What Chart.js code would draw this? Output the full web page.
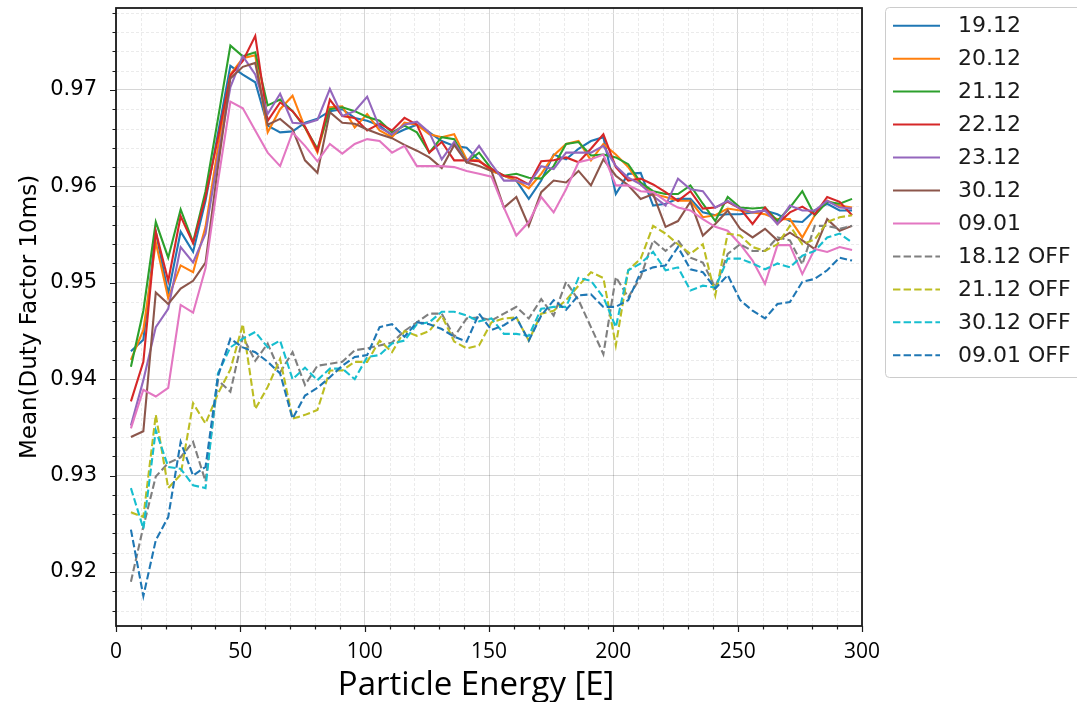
<!DOCTYPE html>
<html><head><meta charset="utf-8">
<script src="https://cdn.jsdelivr.net/npm/chart.js@4.4.0/dist/chart.umd.min.js"></script>
<style>html,body{margin:0;padding:0;background:#fff;overflow:hidden}</style>
</head><body>
<canvas id="c" width="1077" height="702" style="display:block;width:1077px;height:702px"></canvas>
<script>
// ---- data ----
const energies = [6,11,16,21,26,31,36,41,46,51,56,61,66,71,76,81,86,91,96,101,106,111,116,121,126,131,136,141,146,151,156,161,166,171,176,181,186,191,196,201,206,211,216,221,226,231,236,241,246,251,256,261,266,271,276,281,286,291,296];

const on1912 = [0.9429,0.9441,0.9553,0.9489,0.9553,0.9532,0.9585,0.9655,0.9725,0.9716,
 0.9708,0.9663,0.9656,0.9657,0.9666,0.9670,0.9678,0.9680,0.9671,0.9668,
 0.9663,0.9653,0.9659,0.9664,0.9656,0.9647,0.9642,0.9640,0.9627,0.9616,
 0.9611,0.9606,0.9587,0.9606,0.9633,0.9628,0.9639,0.9647,0.9651,0.9592,
 0.9613,0.9614,0.9580,0.9582,0.9587,0.9587,0.9573,0.9570,0.9571,0.9571,
 0.9573,0.9575,0.9571,0.9564,0.9563,0.9575,0.9582,0.9575,0.9575];
const on2012 = [0.9420,0.9451,0.9542,0.9484,0.9518,0.9511,0.9558,0.9640,0.9716,0.9733,
 0.9736,0.9656,0.9680,0.9694,0.9661,0.9635,0.9682,0.9683,0.9661,0.9675,
 0.9658,0.9651,0.9666,0.9664,0.9654,0.9651,0.9654,0.9628,0.9627,0.9616,
 0.9611,0.9606,0.9598,0.9613,0.9632,0.9644,0.9647,0.9627,0.9644,0.9633,
 0.9620,0.9602,0.9592,0.9589,0.9585,0.9585,0.9568,0.9570,0.9577,0.9575,
 0.9573,0.9571,0.9566,0.9566,0.9547,0.9570,0.9585,0.9580,0.9578];
const on2112 = [0.9413,0.9471,0.9563,0.9526,0.9576,0.9542,0.9595,0.9670,0.9746,0.9735,
 0.9739,0.9684,0.9690,0.9678,0.9661,0.9639,0.9680,0.9682,0.9678,0.9672,
 0.9668,0.9656,0.9663,0.9656,0.9635,0.9651,0.9649,0.9625,0.9635,0.9618,
 0.9611,0.9613,0.9609,0.9608,0.9621,0.9644,0.9646,0.9632,0.9633,0.9630,
 0.9623,0.9604,0.9595,0.9592,0.9592,0.9601,0.9582,0.9564,0.9589,0.9578,
 0.9577,0.9578,0.9564,0.9578,0.9595,0.9570,0.9584,0.9582,0.9587];
const on2212 = [0.9377,0.9418,0.9553,0.9502,0.9569,0.9541,0.9589,0.9650,0.9715,0.9730,
 0.9756,0.9668,0.9687,0.9678,0.9662,0.9637,0.9690,0.9673,0.9671,0.9658,
 0.9665,0.9658,0.9671,0.9664,0.9635,0.9646,0.9627,0.9627,0.9626,0.9618,
 0.9611,0.9609,0.9602,0.9626,0.9627,0.9630,0.9625,0.9639,0.9654,0.9620,
 0.9606,0.9608,0.9602,0.9594,0.9585,0.9595,0.9577,0.9578,0.9584,0.9577,
 0.9561,0.9578,0.9561,0.9573,0.9579,0.9571,0.9589,0.9584,0.9570];
const on2312 = [0.9352,0.9399,0.9454,0.9473,0.9537,0.9521,0.9551,0.9630,0.9703,0.9735,
 0.9716,0.9675,0.9696,0.9666,0.9665,0.9669,0.9701,0.9673,0.9678,0.9693,
 0.9661,0.9654,0.9664,0.9667,0.9656,0.9628,0.9646,0.9625,0.9642,0.9623,
 0.9606,0.9606,0.9602,0.9621,0.9618,0.9635,0.9635,0.9635,0.9642,0.9621,
 0.9609,0.9602,0.9590,0.9580,0.9608,0.9597,0.9595,0.9578,0.9585,0.9577,
 0.9573,0.9575,0.9561,0.9580,0.9575,0.9575,0.9585,0.9578,0.9577];
const on3012 = [0.9340,0.9346,0.9490,0.9478,0.9494,0.9502,0.9521,0.9620,0.9712,0.9724,
 0.9728,0.9664,0.9670,0.9659,0.9627,0.9614,0.9677,0.9666,0.9665,0.9659,
 0.9654,0.9650,0.9643,0.9637,0.9630,0.9619,0.9643,0.9625,0.9621,0.9616,
 0.9578,0.9589,0.9559,0.9594,0.9606,0.9604,0.9616,0.9601,0.9628,0.9611,
 0.9601,0.9587,0.9592,0.9558,0.9564,0.9584,0.9549,0.9561,0.9575,0.9556,
 0.9547,0.9556,0.9544,0.9552,0.9544,0.9535,0.9566,0.9554,0.9559];
const on0901 = [0.9349,0.9389,0.9382,0.9391,0.9477,0.9469,0.9515,0.9605,0.9688,0.9681,
 0.9658,0.9635,0.9621,0.9656,0.9642,0.9626,0.9644,0.9634,0.9644,0.9649,
 0.9647,0.9635,0.9642,0.9621,0.9621,0.9621,0.9620,0.9616,0.9613,0.9610,
 0.9578,0.9549,0.9563,0.9589,0.9573,0.9597,0.9625,0.9628,0.9633,0.9601,
 0.9601,0.9595,0.9594,0.9585,0.9578,0.9575,0.9566,0.9558,0.9554,0.9540,
 0.9523,0.9499,0.9539,0.9539,0.9509,0.9535,0.9532,0.9537,0.9534];
const off1812 = [0.9190,0.9247,0.9299,0.9313,0.9319,0.9335,0.9294,0.9399,0.9387,0.9444,
 0.9419,0.9437,0.9407,0.9428,0.9394,0.9414,0.9416,0.9418,0.9430,0.9432,
 0.9435,0.9438,0.9450,0.9459,0.9468,0.9468,0.9444,0.9463,0.9464,0.9461,
 0.9468,0.9475,0.9463,0.9483,0.9466,0.9501,0.9482,0.9454,0.9426,0.9506,
 0.9485,0.9506,0.9544,0.9533,0.9544,0.9526,0.9521,0.9495,0.9530,0.9540,
 0.9533,0.9533,0.9547,0.9544,0.9519,0.9559,0.9559,0.9556,0.9559];
const off2112 = [0.9262,0.9257,0.9363,0.9287,0.9301,0.9375,0.9354,0.9385,0.9410,0.9457,
 0.9369,0.9392,0.9421,0.9359,0.9363,0.9368,0.9409,0.9409,0.9418,0.9418,
 0.9440,0.9428,0.9450,0.9445,0.9450,0.9466,0.9439,0.9432,0.9435,0.9459,
 0.9463,0.9464,0.9440,0.9468,0.9471,0.9482,0.9497,0.9511,0.9505,0.9435,
 0.9513,0.9525,0.9559,0.9551,0.9540,0.9530,0.9540,0.9487,0.9551,0.9549,
 0.9537,0.9533,0.9540,0.9559,0.9540,0.9545,0.9563,0.9568,0.9570];
const off3012 = [0.9287,0.9245,0.9347,0.9309,0.9307,0.9290,0.9287,0.9406,0.9433,0.9442,
 0.9449,0.9433,0.9440,0.9400,0.9412,0.9399,0.9411,0.9411,0.9400,0.9423,
 0.9425,0.9437,0.9440,0.9457,0.9459,0.9470,0.9470,0.9466,0.9460,0.9463,
 0.9447,0.9447,0.9445,0.9473,0.9475,0.9475,0.9505,0.9502,0.9485,0.9454,
 0.9513,0.9520,0.9532,0.9513,0.9516,0.9492,0.9497,0.9495,0.9525,0.9525,
 0.9520,0.9514,0.9520,0.9516,0.9528,0.9533,0.9547,0.9551,0.9542];
const off0901 = [0.9244,0.9175,0.9233,0.9257,0.9335,0.9300,0.9309,0.9403,0.9442,0.9433,
 0.9428,0.9418,0.9406,0.9359,0.9383,0.9391,0.9402,0.9414,0.9423,0.9425,
 0.9454,0.9457,0.9444,0.9459,0.9457,0.9452,0.9444,0.9439,0.9468,0.9451,
 0.9456,0.9464,0.9440,0.9466,0.9482,0.9472,0.9487,0.9488,0.9475,0.9475,
 0.9482,0.9511,0.9516,0.9518,0.9537,0.9514,0.9511,0.9494,0.9508,0.9482,
 0.9471,0.9463,0.9478,0.9480,0.9501,0.9504,0.9513,0.9526,0.9523];

const seriesLabels = ['19.12','20.12','21.12','22.12','23.12','30.12','09.01','18.12 OFF','21.12 OFF','30.12 OFF','09.01 OFF'];
const seriesValues = [on1912,on2012,on2112,on2212,on2312,on3012,on0901,off1812,off2112,off3012,off0901];
const xTickLabels = [0,50,100,150,200,250,300];
const yTickLabels = [0.92,0.93,0.94,0.95,0.96,0.97];

// ---- styles ----
const colors = ['#1f77b4','#ff7f0e','#2ca02c','#d62728','#9467bd','#8c564b','#e377c2','#7f7f7f','#bcbd22','#17becf','#1f77b4'];
const DASH = [7.4,3.2];
const xMinor = []; for (let v = 0; v <= 300; v += 10) if (v % 50) xMinor.push(v);
const yMinor = []; for (let i = 458; i <= 489; i++) if ((i*2) % 10) yMinor.push(i*0.002);

const datasets = seriesLabels.map((lab, i) => ({
  label: lab,
  data: energies.map((e, k) => ({x: e, y: seriesValues[i][k]})),
  borderColor: colors[i],
  backgroundColor: colors[i],
  borderWidth: 2.1,
  borderDash: i >= 7 ? DASH : [],
  pointRadius: 0,
  tension: 0,
  fill: false,
  order: seriesLabels.length - i
}));

const decor = {
  id: 'decor',
  beforeDatasetsDraw(chart) {
    const {ctx, chartArea: a, scales: {x, y}} = chart;
    ctx.save();
    ctx.strokeStyle = '#e6e6e6'; ctx.lineWidth = 0.8; ctx.setLineDash([3, 2]);
    ctx.beginPath();
    for (const v of xMinor) { const p = Math.round(x.getPixelForValue(v)) + 0.5; ctx.moveTo(p, a.top); ctx.lineTo(p, a.bottom); }
    for (const v of yMinor) { const p = Math.round(y.getPixelForValue(v)) + 0.5; ctx.moveTo(a.left, p); ctx.lineTo(a.right, p); }
    ctx.stroke();
    ctx.restore();
  },
  afterDatasetsDraw(chart) {
    const {ctx, chartArea: a, scales: {x, y}} = chart;
    ctx.save();
    ctx.strokeStyle = '#1a1a1a'; ctx.lineWidth = 1.2; ctx.setLineDash([]);
    ctx.beginPath();
    for (const v of xTickLabels) { const p = Math.round(x.getPixelForValue(v)) + 0.5; ctx.moveTo(p, a.bottom); ctx.lineTo(p, a.bottom + 6); }
    for (const v of xMinor) { const p = Math.round(x.getPixelForValue(v)) + 0.5; ctx.moveTo(p, a.bottom); ctx.lineTo(p, a.bottom + 3.5); }
    for (const v of yTickLabels) { const p = Math.round(y.getPixelForValue(v)) + 0.5; ctx.moveTo(a.left, p); ctx.lineTo(a.left - 6, p); }
    for (const v of yMinor) { const p = Math.round(y.getPixelForValue(v)) + 0.5; ctx.moveTo(a.left, p); ctx.lineTo(a.left - 3.5, p); }
    ctx.stroke();
    ctx.lineWidth = 1.8;
    ctx.strokeRect(a.left, a.top, a.right - a.left, a.bottom - a.top);
    ctx.restore();
  },
  afterDraw(chart) {
    const {ctx} = chart;
    ctx.save();
    const bx = 885.5, by = 7.5, bw = 260, bh = 370;
    ctx.fillStyle = 'rgba(255,255,255,0.85)';
    ctx.strokeStyle = '#cccccc'; ctx.lineWidth = 1;
    ctx.beginPath();
    ctx.roundRect(bx, by, bw, bh, 4);
    ctx.fill(); ctx.stroke();
    ctx.font = '22px "DejaVu Sans"';
    ctx.textBaseline = 'middle'; ctx.textAlign = 'left';
    chart.data.datasets.forEach((ds, i) => {
      const yy = 25.7 + 32.96 * i;
      ctx.strokeStyle = ds.borderColor; ctx.lineWidth = 2;
      ctx.setLineDash(ds.borderDash || []);
      ctx.beginPath(); ctx.moveTo(893, yy); ctx.lineTo(940, yy); ctx.stroke();
      ctx.setLineDash([]);
      ctx.fillStyle = '#1a1a1a';
      ctx.fillText(ds.label, 958, yy + 1);
    });
    ctx.restore();
  }
};

new Chart(document.getElementById('c'), {
  type: 'line',
  data: {datasets},
  plugins: [decor],
  options: {
    responsive: false,
    animation: false,
    devicePixelRatio: 1,
    layout: {padding: {left: 0, right: 215, top: 8, bottom: 0}},
    plugins: {legend: {display: false}, tooltip: {enabled: false}},
    scales: {
      x: {
        type: 'linear', min: 0, max: 300,
        afterBuildTicks: s => { s.ticks = xTickLabels.map(v => ({value: v})); },
        afterFit: s => { s.height = 76; s.paddingLeft = 0; s.paddingRight = 0; },
        grid: {color: 'rgba(0,0,0,0.16)', lineWidth: 1, drawTicks: false},
        border: {display: false},
        ticks: {padding: 13, color: '#000', maxRotation: 0, font: {family: '"Open Sans", sans-serif', size: 21},
          callback: v => String(v)},
        title: {display: true, text: 'Particle Energy [E]\u00a0\u00a0\u00a0', color: '#000',
          font: {family: '"Open Sans", sans-serif', size: 33}, padding: {top: 0, bottom: -3}}
      },
      y: {
        type: 'linear', min: 0.9144, max: 0.9785,
        afterBuildTicks: s => { s.ticks = yTickLabels.map(v => ({value: v})); },
        afterFit: s => { s.width = 116; s.paddingTop = 0; s.paddingBottom = 0; },
        grid: {color: 'rgba(0,0,0,0.16)', lineWidth: 1, drawTicks: false},
        border: {display: false},
        ticks: {padding: 19, color: '#000', font: {family: '"DejaVu Sans"', size: 21},
          callback: v => v.toFixed(2)},
        title: {display: true, text: 'Mean(Duty Factor 10ms)', color: '#000',
          font: {family: '"DejaVu Sans"', size: 23}, padding: {top: 16, bottom: 0}}
      }
    }
  }
});
</script>
</body></html>
